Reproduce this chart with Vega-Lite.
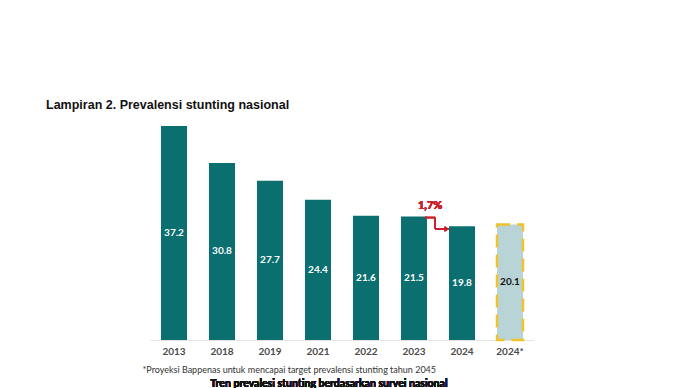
{
  "$schema": "https://vega.github.io/schema/vega-lite/v6.json",
  "width": 384,
  "height": 230,
  "autosize": {"type": "none"},
  "padding": {"left": 150, "top": 110, "right": 156, "bottom": 48},
  "background": "#ffffff",
  "config": {"view": {"stroke": null}},
  "title": {
    "text": "Lampiran 2. Prevalensi stunting nasional",
    "anchor": "start",
    "frame": "group",
    "dx": -104,
    "dy": 13,
    "offset": 2,
    "baseline": "alphabetic",
    "font": "Liberation Sans",
    "fontSize": 12.5,
    "fontWeight": "bold",
    "color": "#111111"
  },
  "data": {
    "values": [
      {"year": "2013", "value": 37.2, "proj": false},
      {"year": "2018", "value": 30.8, "proj": false},
      {"year": "2019", "value": 27.7, "proj": false},
      {"year": "2021", "value": 24.4, "proj": false},
      {"year": "2022", "value": 21.6, "proj": false},
      {"year": "2023", "value": 21.5, "proj": false},
      {"year": "2024", "value": 19.8, "proj": false},
      {"year": "2024*", "value": 20.1, "proj": true}
    ]
  },
  "encoding": {
    "x": {
      "field": "year",
      "type": "nominal",
      "sort": null,
      "scale": {"paddingInner": 0.458, "paddingOuter": 0.229},
      "axis": {
        "labelAngle": 0,
        "ticks": false,
        "labelPadding": 6,
        "labelFont": "Lato",
        "labelFontWeight": "bold",
        "labelFontSize": 10,
        "labelColor": "#4a4a4a",
        "domainColor": "#e4e4e4",
        "domainWidth": 1,
        "title": "*Proyeksi Bappenas untuk mencapai target prevalensi stunting tahun 2045",
        "titleFont": "Lato",
        "titleFontWeight": "normal",
        "titleFontSize": 9,
        "titleColor": "#333333",
        "titleAnchor": "start",
        "titleAlign": "left",
        "titleBaseline": "middle",
        "titleX": -8,
        "titleY": 29
      }
    }
  },
  "layer": [
    {
      "transform": [{"filter": "!datum.proj"}],
      "mark": {"type": "bar", "color": "#0b6f6f"},
      "encoding": {
        "y": {"field": "value", "type": "quantitative", "scale": {"domain": [0, 40]}, "axis": null}
      }
    },
    {
      "transform": [{"filter": "datum.proj"}],
      "mark": {"type": "bar", "fill": "#b8d4d7", "stroke": "#f0c22e", "strokeWidth": 2.5, "strokeDash": [13, 7]},
      "encoding": {
        "y": {"field": "value", "type": "quantitative", "scale": {"domain": [0, 40]}, "axis": null}
      }
    },
    {
      "layer": [
        {
          "mark": {"type": "text", "font": "Lato", "fontWeight": "bold", "fontSize": 10, "baseline": "middle"},
          "encoding": {
            "y": {"field": "value", "type": "quantitative", "scale": {"domain": [0, 80]}, "axis": null},
            "text": {"field": "value", "type": "quantitative", "format": ".1f"},
            "color": {"condition": {"test": "datum.proj", "value": "#111111"}, "value": "#ffffff"}
          }
        }
      ]
    },
    {
      "mark": {"type": "rule", "color": "#c8232c", "strokeWidth": 1.3},
      "encoding": {
        "x": {"datum": "2023", "bandPosition": 0.92},
        "x2": {"datum": "2023", "bandPosition": 1.31},
        "y": {"datum": 21.3, "type": "quantitative", "scale": {"domain": [0, 40]}, "axis": null}
      }
    },
    {
      "mark": {"type": "rule", "color": "#c8232c", "strokeWidth": 1.3},
      "encoding": {
        "x": {"datum": "2023", "bandPosition": 1.31},
        "y": {"datum": 21.3, "type": "quantitative", "scale": {"domain": [0, 40]}, "axis": null},
        "y2": {"datum": 19.3}
      }
    },
    {
      "mark": {"type": "rule", "color": "#c8232c", "strokeWidth": 1.3},
      "encoding": {
        "x": {"datum": "2023", "bandPosition": 1.31},
        "x2": {"datum": "2024", "bandPosition": -0.1},
        "y": {"datum": 19.3, "type": "quantitative", "scale": {"domain": [0, 40]}, "axis": null}
      }
    },
    {
      "mark": {"type": "point", "shape": "triangle-right", "filled": true, "color": "#c8232c", "size": 25, "opacity": 1},
      "encoding": {
        "x": {"datum": "2024", "bandPosition": -0.08},
        "y": {"datum": 19.3, "type": "quantitative", "scale": {"domain": [0, 40]}, "axis": null}
      }
    },
    {
      "mark": {"type": "text", "text": "1,7%", "color": "#c8232c", "font": "Lato", "fontWeight": "bold", "fontSize": 11, "baseline": "middle", "align": "center"},
      "encoding": {
        "x": {"datum": "2023", "bandPosition": 1.12},
        "y": {"datum": 23.3, "type": "quantitative", "scale": {"domain": [0, 40]}, "axis": null}
      }
    },
    {
      "mark": {"type": "text", "text": "Tren prevalesi stunting berdasarkan survei nasional", "color": "#111111", "font": "Lato", "fontWeight": "bold", "fontSize": 10.5, "baseline": "top", "align": "center"},
      "encoding": {
        "x": {"datum": "2021", "bandPosition": 0.92},
        "y": {"datum": -6.8, "type": "quantitative", "scale": {"domain": [0, 40]}, "axis": null}
      }
    }
  ],
  "resolve": {"scale": {"y": "independent"}}
}
